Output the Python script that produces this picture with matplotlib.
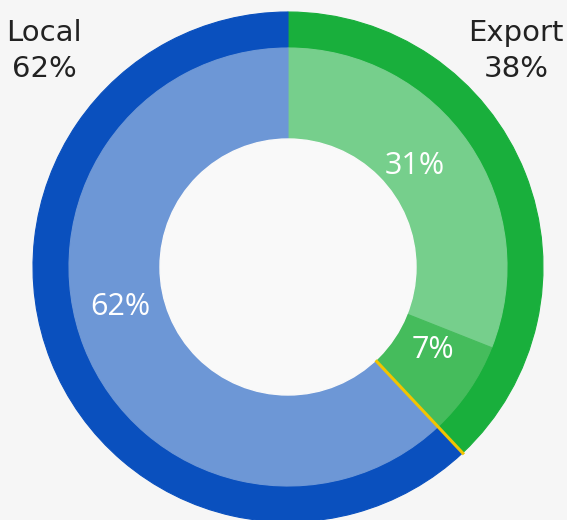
import matplotlib
matplotlib.use("Agg")
import matplotlib.pyplot as plt
import numpy as np

outer_labels = ["Export", "Local"]
outer_values = [38, 62]
outer_colors = ["#19af3c", "#0a50be"]

inner_values = [31, 7, 62]
inner_colors = ["#76cf8c", "#45bc5c", "#6d97d6"]

W, H = 567, 520
cx, cy = 288, 267
fig = plt.figure(figsize=(W / 100, H / 100), dpi=100, facecolor="#f6f6f6")
ax = fig.add_axes([0, 0, 1, 1])
ax.set_facecolor("#f6f6f6")

R_out, w_out = 255, 36
R_in, w_in = 219, 91

wo, _ = ax.pie(outer_values, colors=outer_colors, radius=R_out, startangle=90,
               counterclock=False, wedgeprops=dict(width=w_out, linewidth=0.8))
for w, c in zip(wo, outer_colors):
    w.set_edgecolor(c)
wi, _ = ax.pie(inner_values, colors=inner_colors, radius=R_in, startangle=90,
               counterclock=False, wedgeprops=dict(width=w_in, linewidth=0.8))
for w, c in zip(wi, inner_colors):
    w.set_edgecolor(c)

# centre hole
ax.add_patch(plt.Circle((0, 0), R_in - w_in, color="#f9f9f9", zorder=3))

# yellow separator at export/local boundary
ang = np.deg2rad(90 - outer_values[0] / sum(outer_values) * 360)
r0, r1 = R_in - w_in, R_out + 2
ax.plot([r0 * np.cos(ang), r1 * np.cos(ang)], [r0 * np.sin(ang), r1 * np.sin(ang)],
        color="#f2c400", lw=2.2, solid_capstyle="butt", zorder=5)

# inner labels
inner_pos = [(127, 101), (145, -83), (-168, -40)]
for v, (x, y) in zip(inner_values, inner_pos):
    ax.text(x, y, f"{v}%", color="white", fontsize=22, family="Open Sans",
            ha="center", va="center", zorder=6)

# outer labels
ax.text(516 - cx, cy - 51, f"{outer_labels[0]}\n{outer_values[0]}%", fontsize=21,
        color="#222222", ha="center", va="center", linespacing=1.4)
ax.text(44 - cx, cy - 51, f"{outer_labels[1]}\n{outer_values[1]}%", fontsize=21,
        color="#222222", ha="center", va="center", linespacing=1.4)

ax.set_xlim(-cx, W - cx)
ax.set_ylim(-(H - cy), cy)
ax.set_aspect("equal")
ax.axis("off")

fig.savefig("out.png", dpi=100, facecolor=fig.get_facecolor())
